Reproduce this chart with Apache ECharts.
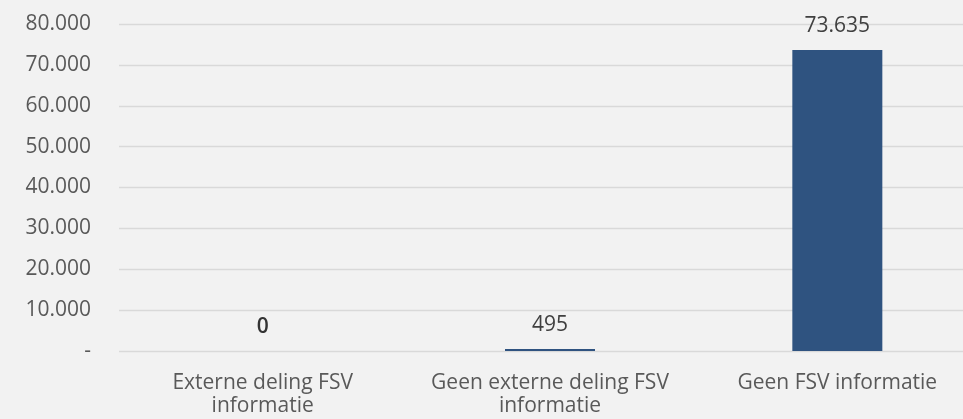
<!DOCTYPE html>
<html>
<head>
<meta charset="utf-8">
<script src="https://cdn.jsdelivr.net/npm/echarts@6/dist/echarts.min.js"></script>
<style>
html,body{margin:0;padding:0;background:#F2F2F2;}
#c{width:963px;height:419px;}
</style>
</head>
<body>
<div id="c"></div>
<script>
const categories = ["Externe deling FSV\ninformatie", "Geen externe deling FSV\ninformatie", "Geen FSV informatie"];
const values = [0, 495, 73635];
const yTicks = [0, 10000, 20000, 30000, 40000, 50000, 60000, 70000, 80000];

function fmt(v) {
  if (v === 0) return '-';
  return String(v).replace(/\B(?=(\d{3})+(?!\d))/g, '.');
}
function fmtLabel(v) {
  if (v === 0) return '{z|0}';
  return String(v).replace(/\B(?=(\d{3})+(?!\d))/g, '.');
}

const chart = echarts.init(document.getElementById('c'), null, {renderer: 'canvas'});
chart.setOption({
  backgroundColor: '#F2F2F2',
  animation: false,
  grid: {left: 119, top: 24, width: 862, height: 327, containLabel: false, outerBoundsMode: 'none'},
  xAxis: {
    type: 'category',
    data: categories,
    axisLine: {show: false},
    axisTick: {show: false},
    axisLabel: {
      color: '#595959',
      fontFamily: 'Open Sans',
      fontSize: 21,
      lineHeight: 23,
      margin: 21,
      interval: 0,
      hideOverlap: false
    }
  },
  yAxis: {
    type: 'value',
    min: yTicks[0],
    max: yTicks[yTicks.length - 1],
    interval: 10000,
    axisLine: {show: false},
    axisTick: {show: false},
    splitLine: {lineStyle: {color: '#D9D9D9', width: 1.3}},
    axisLabel: {
      color: '#595959',
      fontFamily: 'Open Sans',
      fontSize: 21,
      margin: 28,
      formatter: fmt
    }
  },
  series: [{
    type: 'bar',
    data: values,
    barWidth: 90,
    itemStyle: {color: '#2F5380'},
    label: {
      show: true,
      position: 'top',
      distance: 13,
      color: '#404040',
      fontFamily: 'Open Sans',
      fontSize: 21,
      lineHeight: 22,
      formatter: p => fmtLabel(p.value),
      rich: {z: {fontWeight: 600, color: '#333333', fontFamily: 'Open Sans', fontSize: 21, lineHeight: 22}}
    }
  }]
});
</script>
</body>
</html>
